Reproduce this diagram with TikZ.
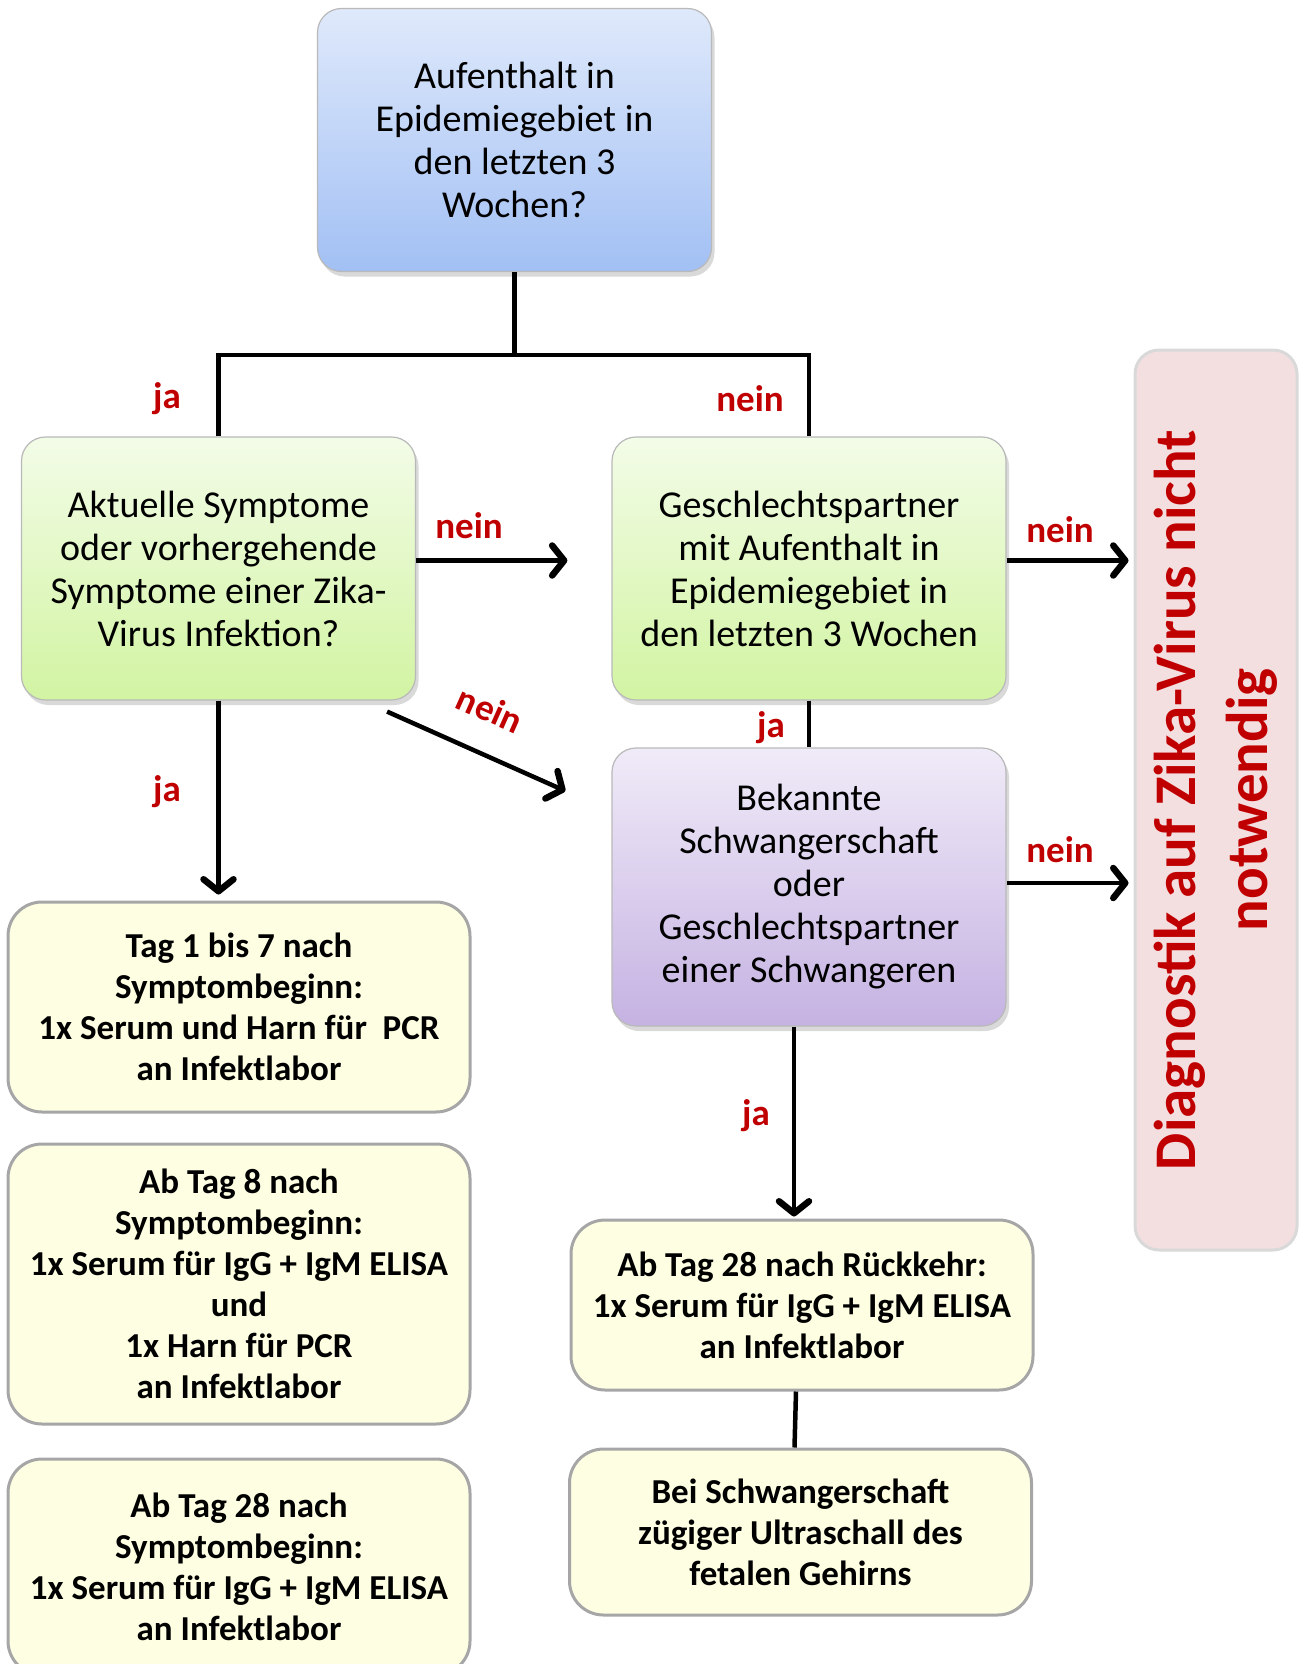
\documentclass[tikz,border=0pt]{standalone}
\usepackage{fontspec}
\setmainfont{Carlito}
\usepackage{xcolor}
\usetikzlibrary{arrows.meta, positioning, calc, shadows}
\definecolor{zikared}{HTML}{C00000}
\definecolor{zikablueA}{HTML}{DFE9FB}
\definecolor{zikablueB}{HTML}{A2C0F4}
\definecolor{zikagreenA}{HTML}{F3FCE8}
\definecolor{zikagreenB}{HTML}{D2F4A2}
\definecolor{zikapurpleA}{HTML}{F0EBF8}
\definecolor{zikapurpleB}{HTML}{C5B2E2}
\definecolor{zikapink}{HTML}{F3DFE0}
\definecolor{zikayellow}{HTML}{FEFEE2}
\definecolor{zikagrey}{HTML}{A6A6A6}
\tikzset{
  qbox/.style={draw=gray!55, rounded corners=24pt, line width=1.2pt, align=center,
               inner sep=0pt, font=\fontsize{38}{43}\selectfont,
               minimum width=394pt, minimum height=263pt,
               drop shadow={shadow xshift=3pt, shadow yshift=-5pt, opacity=0.3}},
  bluebox/.style={qbox, top color=zikablueA, bottom color=zikablueB},
  greenbox/.style={qbox, top color=zikagreenA, bottom color=zikagreenB},
  purplebox/.style={qbox, top color=zikapurpleA, bottom color=zikapurpleB},
  resultbox/.style={draw=gray!30, fill=zikapink, rounded corners=24pt, line width=3pt,
                    align=center, rotate=90, minimum width=900pt, minimum height=162pt,
                    font=\bfseries\fontsize{59}{72}\selectfont, text=zikared},
  labbox/.style={draw=zikagrey, fill=zikayellow, rounded corners=34pt, line width=3pt,
                 align=center, minimum width=462pt, inner sep=0pt,
                 font=\bfseries\fontsize{35}{41}\selectfont},
  conn/.style={line width=4.5pt, draw=black, line join=miter},
  flow/.style={conn, -{Straight Barb[length=12pt, width=30pt, line width=6.5pt, round]}},
  lbl/.style={font=\bfseries\fontsize{37}{40}\selectfont, text=zikared},
}
\begin{document}
\begin{tikzpicture}[x=1pt, y=-1pt]
  \useasboundingbox (0,0) rectangle (1301,1664);

  % questions
  \node[bluebox] (q1) at (514.5,140) {Aufenthalt in\\ Epidemiegebiet in\\ den letzten 3\\ Wochen?};
  \node[greenbox] (q2) at (218.5,568.5) {Aktuelle Symptome\\ oder vorhergehende\\ Symptome einer Zika-\\ Virus Infektion?};
  \node[greenbox] (q3) at (809,568.5) {Geschlechtspartner\\ mit Aufenthalt in\\ Epidemiegebiet in\\ den letzten 3 Wochen};
  \node[purplebox, minimum height=278pt] (q4) at (809,887) {Bekannte\\ Schwangerschaft\\ oder\\ Geschlechtspartner\\ einer Schwangeren};
  \node[resultbox] (res) at (1216,800) {Diagnostik auf Zika-Virus nicht\\ notwendig};

  % lab steps
  \node[labbox, minimum height=210pt] (l1) at (239,1007) {Tag 1 bis 7 nach\\ Symptombeginn:\\ 1x Serum und Harn für\ \ PCR\\ an Infektlabor};
  \node[labbox, minimum height=280pt] (l2) at (239,1284) {Ab Tag 8 nach\\ Symptombeginn:\\ 1x Serum für IgG + IgM ELISA\\ und\\ 1x Harn für PCR\\ an Infektlabor};
  \node[labbox, minimum height=216pt] (l3) at (239,1567) {Ab Tag 28 nach\\ Symptombeginn:\\ 1x Serum für IgG + IgM ELISA\\ an Infektlabor};
  \node[labbox, minimum height=170pt] (r1) at (802,1305) {Ab Tag 28 nach Rückkehr:\\ 1x Serum für IgG + IgM ELISA\\ an Infektlabor};
  \node[labbox, minimum height=166pt] (r2) at (800.5,1532) {Bei Schwangerschaft\\ zügiger Ultraschall des\\ fetalen Gehirns};

  % connectors
  \coordinate (split) at (514.5,355);
  \draw[conn] (q1.south) -- (split);
  \draw[conn] (q2.north) |- (split) -| (q3.north);
  \draw[flow, shorten >=44pt] ([yshift=8pt]q2.east) -- ([yshift=8pt]q3.west);
  \draw[flow] ([xshift=-29pt,yshift=-11pt]q2.south east) -- ([xshift=-46pt,yshift=96pt]q4.west);
  \draw[flow, shorten >=6pt] (q2.south) -- (q2.south |- l1.north);
  \draw[conn] (q3.south) -- (q4.north);
  \draw[flow, shorten >=5pt] ([yshift=8pt]q3.east) -- ([yshift=8pt]q3.east -| res.north);
  \draw[flow, shorten >=5pt] ([yshift=4pt]q4.east) -- ([yshift=4pt]q4.east -| res.north);
  \draw[flow, shorten >=2pt] ([xshift=-8pt]q4.south -| r1.north) -- ([xshift=-8pt]r1.north);
  \draw[conn] ([xshift=-6pt]r1.south) -- ([xshift=-6pt]r2.north);

  % answers
  \node[lbl] (a1) at (167,399) {ja};
  \node[lbl] (a2) at (750,399) {nein};
  \node[lbl] (a3) at (469,526) {nein};
  \node[lbl, rotate=-24] (a4) at (490,709) {nein};
  \node[lbl] (a5) at (167,792) {ja};
  \node[lbl] (a6) at (771,728) {ja};
  \node[lbl] (a7) at (1060,530) {nein};
  \node[lbl] (a8) at (1060,850) {nein};
  \node[lbl] (a9) at (756,1116) {ja};
\end{tikzpicture}
\end{document}
